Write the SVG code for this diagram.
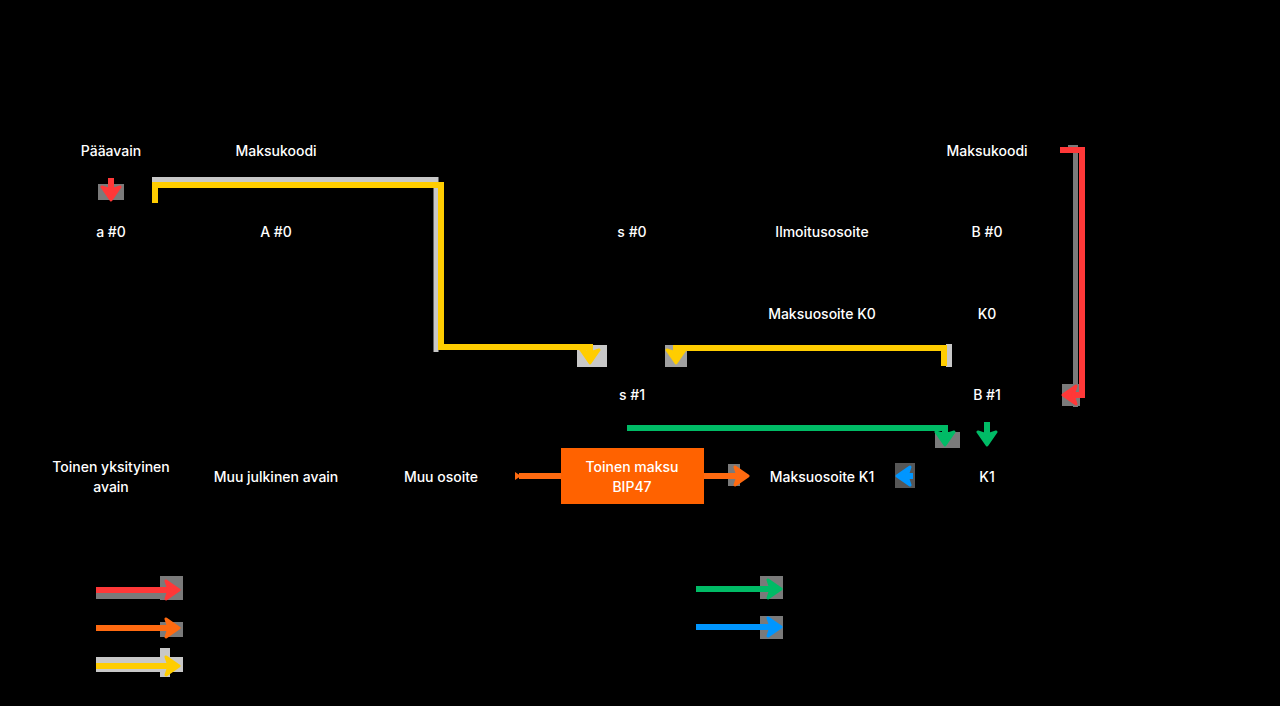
<svg xmlns="http://www.w3.org/2000/svg" width="1280" height="706" viewBox="0 0 1280 706">
<style>
.t{font-family:Inter,"Noto Sans","Liberation Sans",sans-serif;font-size:14px;font-weight:500;fill:#ffffff;text-anchor:middle;dominant-baseline:central}
.e{fill:none;stroke-width:6;stroke-linejoin:miter}
.red{stroke:#ff3838}.org{stroke:#ff6a10}.yel{stroke:#ffcd00}.grn{stroke:#00bb66}.blu{stroke:#0096ff}
.sh{fill:none;stroke-width:5}
.g1{fill:#7a7a7a}.g2{fill:#c8c8c8}
.hd{stroke-width:3;stroke-linejoin:round}
</style>
<defs>
<marker id="mr" viewBox="0 0 22 22" refX="14" refY="11" markerWidth="22" markerHeight="22" markerUnits="userSpaceOnUse" orient="auto"><path class="hd" d="M6,2 L19,11 L6,20 L9,11 Z" fill="#ff3838" stroke="#ff3838"/></marker>
<marker id="mo" viewBox="0 0 22 22" refX="14" refY="11" markerWidth="22" markerHeight="22" markerUnits="userSpaceOnUse" orient="auto"><path class="hd" d="M6,2 L19,11 L6,20 L9,11 Z" fill="#ff6a10" stroke="#ff6a10"/></marker>
<marker id="my" viewBox="0 0 22 22" refX="14" refY="11" markerWidth="22" markerHeight="22" markerUnits="userSpaceOnUse" orient="auto"><path class="hd" d="M6,2 L19,11 L6,20 L9,11 Z" fill="#ffcd00" stroke="#ffcd00"/></marker>
<marker id="mg" viewBox="0 0 22 22" refX="14" refY="11" markerWidth="22" markerHeight="22" markerUnits="userSpaceOnUse" orient="auto"><path class="hd" d="M6,2 L19,11 L6,20 L9,11 Z" fill="#00bb66" stroke="#00bb66"/></marker>
<marker id="mb" viewBox="0 0 22 22" refX="14" refY="11" markerWidth="22" markerHeight="22" markerUnits="userSpaceOnUse" orient="auto"><path class="hd" d="M6,2 L19,11 L6,20 L9,11 Z" fill="#0096ff" stroke="#0096ff"/></marker>
</defs>
<rect x="0" y="0" width="1280" height="706" fill="#000000"/>

<g id="connectors">
  <!-- shadows -->
  <rect class="g1" x="98" y="184" width="26" height="16"/>
  <path class="sh" d="M152,179.5 H436 V352" stroke="#c8c8c8"/>
  <rect class="g2" x="577" y="345" width="30" height="22"/>
  <rect class="g2" x="665" y="345" width="22" height="22" opacity="0.8"/>
  <rect class="g2" x="946" y="344" width="6" height="23"/>
  <path class="sh" d="M1068,147.5 H1075.5 V407" stroke="#7a7a7a"/>
  <rect class="g1" x="1062" y="384" width="18" height="22"/>
  <rect class="g1" x="935" y="432" width="25" height="16"/>
  <rect class="g1" x="728" y="464" width="12" height="22"/>
  <rect class="g1" x="895" y="463" width="20" height="25" opacity="0.7"/>
  <!-- edges -->
  <path class="e red" d="M111,178 V195" marker-end="url(#mr)"/>
  <path class="e yel" d="M155,203 V185 H441 V347 H590 V358" marker-end="url(#my)"/>
  <path class="e yel" d="M944,366 V348 H676 V358" marker-end="url(#my)"/>
  <path class="e red" d="M1060,150 H1082 V395 H1068" marker-end="url(#mr)"/>
  <path class="e grn" d="M627,428 H945 V440" marker-end="url(#mg)"/>
  <path class="e grn" d="M987,422 V440" marker-end="url(#mg)"/>
  <path class="e org" d="M561,476 H519"/>
  <path d="M515,472 L521,476 L515,480 Z" fill="#ff6a10"/>
  <path class="e org" d="M704,476 H743" marker-end="url(#mo)"/>
  <path class="e blu" d="M913,476 H902" marker-end="url(#mb)"/>
</g>

<g id="legend">
  <rect class="g1" x="96" y="593" width="87" height="6"/>
  <rect class="g1" x="160" y="576" width="23" height="24"/>
  <path class="e red" d="M96,590 H174" marker-end="url(#mr)"/>
  <rect class="g1" x="160" y="622" width="23" height="15"/>
  <path class="e org" d="M96,628 H174" marker-end="url(#mo)"/>
  <rect class="g2" x="96" y="657" width="87" height="15"/>
  <rect class="g2" x="160" y="648" width="10" height="29"/>
  <path class="e yel" d="M96,666 H174" marker-end="url(#my)"/>
  <rect class="g1" x="760" y="576" width="23" height="23"/>
  <path class="e grn" d="M696,589 H776" marker-end="url(#mg)"/>
  <rect class="g1" x="760" y="616" width="23" height="23"/>
  <path class="e blu" d="M696,627 H776" marker-end="url(#mb)"/>
</g>

<g id="n-paaavain"><text class="t" x="111" y="150">Pääavain</text></g>
<g id="n-maksukoodi-a"><text class="t" x="276" y="150">Maksukoodi</text></g>
<g id="n-maksukoodi-b"><text class="t" x="987" y="150">Maksukoodi</text></g>
<g id="n-a0"><text class="t" x="111" y="231">a #0</text></g>
<g id="n-A0"><text class="t" x="276" y="231">A #0</text></g>
<g id="n-s0"><text class="t" x="632" y="231">s #0</text></g>
<g id="n-ilmoitus"><text class="t" x="822" y="231">Ilmoitusosoite</text></g>
<g id="n-B0"><text class="t" x="987" y="231">B #0</text></g>
<g id="n-mK0"><text class="t" x="822" y="313">Maksuosoite K0</text></g>
<g id="n-K0"><text class="t" x="987" y="313">K0</text></g>
<g id="n-s1"><text class="t" x="632" y="394">s #1</text></g>
<g id="n-B1"><text class="t" x="987" y="394">B #1</text></g>
<g id="n-toinen"><text class="t" x="111" y="466">Toinen yksityinen</text><text class="t" x="111" y="486">avain</text></g>
<g id="n-muujulk"><text class="t" x="276" y="476">Muu julkinen avain</text></g>
<g id="n-muuos"><text class="t" x="441" y="476">Muu osoite</text></g>
<g id="n-bip47"><rect x="561" y="448" width="143" height="56" fill="#ff6200"/><text class="t" x="632" y="466">Toinen maksu</text><text class="t" x="632" y="486">BIP47</text></g>
<g id="n-mK1"><text class="t" x="822" y="476">Maksuosoite K1</text></g>
<g id="n-K1"><text class="t" x="987" y="476">K1</text></g>
</svg>
